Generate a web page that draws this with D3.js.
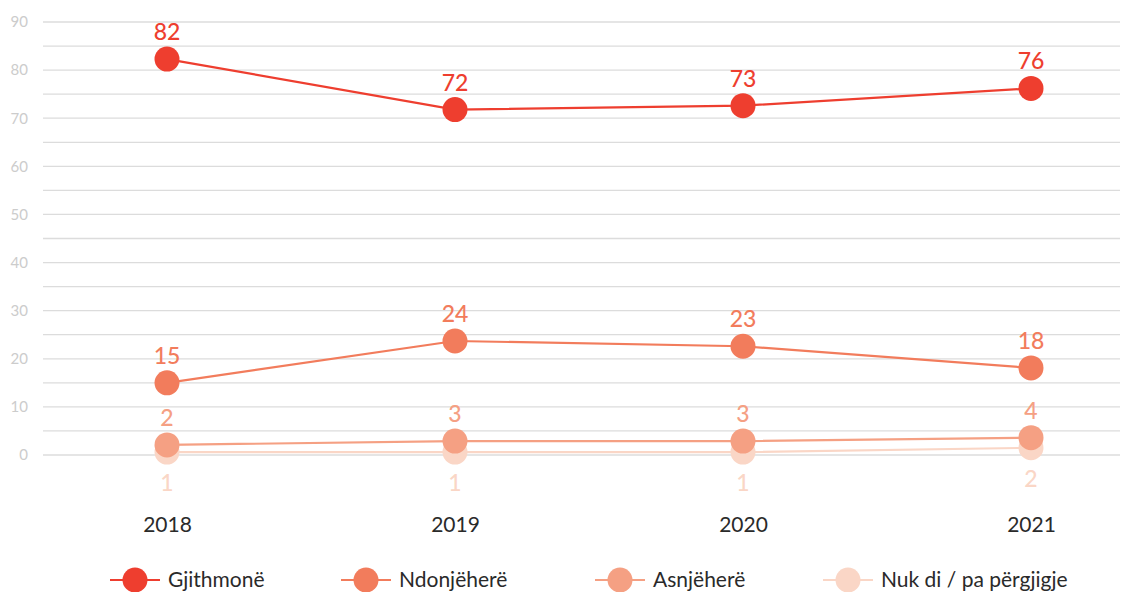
<!DOCTYPE html>
<html>
<head>
<meta charset="utf-8">
<script src="https://cdn.jsdelivr.net/npm/d3@7"></script>
<style>
  body { margin: 0; background: #fff; font-family: Lato, "Noto Sans", sans-serif; }
  svg { display: block; }
</style>
</head>
<body>
<svg id="chart" width="1127" height="592"></svg>
<script>
// Data
const years = ['2018', '2019', '2020', '2021'];
const seriesNames = ['Gjithmonë', 'Ndonjëherë', 'Asnjëherë', 'Nuk di / pa përgjigje'];
const gjithmone = [82.3, 71.8, 72.6, 76.2];
const ndonjehere = [15.0, 23.7, 22.6, 18.1];
const asnjehere = [2.1, 2.9, 2.9, 3.6];
const nukDi = [0.6, 0.6, 0.6, 1.5];
const colors = ['#ee3e2f', '#f27c5c', '#f5a083', '#fad6c6'];
const yTicks = [0, 10, 20, 30, 40, 50, 60, 70, 80, 90];

const series = [gjithmone, ndonjehere, asnjehere, nukDi].map((vals, i) => ({
    name: seriesNames[i],
    color: colors[i],
    below: i === 3,
    values: vals
}));

const svg = d3.select('#chart');

const x = d3.scalePoint().domain(years).range([167, 1031]);
const y = d3.scaleLinear().domain([0, 90]).range([455, 22]);

// Gridlines every 5 units
const grid = svg.append('g');
d3.range(0, 95, 5).forEach(v => {
    grid.append('line')
        .attr('x1', 43).attr('x2', 1120)
        .attr('y1', y(v)).attr('y2', y(v))
        .attr('stroke', '#dcdcdc')
        .attr('stroke-width', 1.3);
});

// Y axis labels
const yAxis = svg.append('g')
    .attr('transform', 'translate(28,0)')
    .call(d3.axisLeft(y).tickValues(yTicks).tickSize(0).tickPadding(0));
yAxis.select('.domain').remove();
yAxis.selectAll('text')
    .attr('fill', '#cccccc')
    .style('font-size', '15px')
    .style('font-family', 'Lato, sans-serif');

// X axis labels
const xAxis = svg.append('g')
    .attr('transform', 'translate(0,525)')
    .call(d3.axisBottom(x).tickSize(0).tickPadding(0));
xAxis.select('.domain').remove();
xAxis.selectAll('text')
    .attr('fill', '#2a2a2a')
    .attr('dy', '0.35em')
    .style('font-size', '21px')
    .style('font-family', 'Lato, sans-serif');

const line = d3.line()
    .x((d, i) => x(years[i]))
    .y(d => y(d));

// draw from the last series to the first so the red line sits on top
series.slice().reverse().forEach(s => {
    const g = svg.append('g');
    g.append('path')
        .datum(s.values)
        .attr('d', line)
        .attr('fill', 'none')
        .attr('stroke', s.color)
        .attr('stroke-width', 2.2);
    g.selectAll('circle')
        .data(s.values)
        .join('circle')
        .attr('cx', (d, i) => x(years[i]))
        .attr('cy', d => y(d))
        .attr('r', 12.5)
        .attr('fill', s.color);
    g.selectAll('text')
        .data(s.values)
        .join('text')
        .attr('x', (d, i) => x(years[i]))
        .attr('y', d => s.below ? y(d) + 39 : y(d) - 19)
        .attr('text-anchor', 'middle')
        .attr('fill', s.color)
        .style('font-size', '23px')
        .style('font-weight', 500)
        .text(d => Math.round(d));
});

// Legend
const legendX = [110, 341, 595, 823];
const legend = svg.append('g').attr('transform', 'translate(0,580)');
series.forEach((s, i) => {
    const item = legend.append('g').attr('transform', `translate(${legendX[i]},0)`);
    item.append('line')
        .attr('x1', 0).attr('x2', 50)
        .attr('stroke', s.color)
        .attr('stroke-width', 2.2);
    item.append('circle')
        .attr('cx', 25)
        .attr('r', 12.5)
        .attr('fill', s.color);
    item.append('text')
        .attr('x', 58)
        .attr('dy', '0.35em')
        .attr('fill', '#2a2a2a')
        .style('font-size', '21px')
        .text(s.name);
});
</script>
</body>
</html>
